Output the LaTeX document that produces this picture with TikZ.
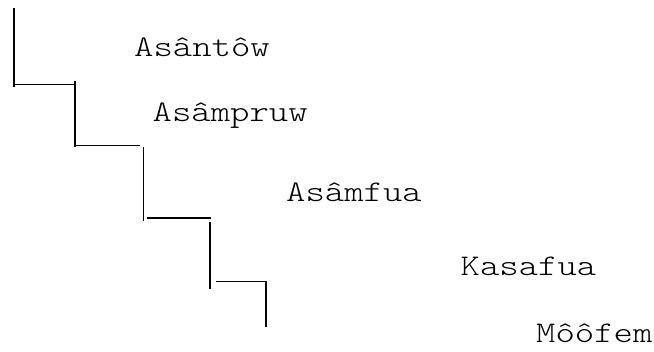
\documentclass[tikz,border=0pt]{standalone}
\usepackage{fontspec}
\newfontfamily\courfont[Extension=.otf,FakeStretch=1.23]{lmmonolt10-regular}
\begin{document}
\begin{tikzpicture}[x=1pt,y=-1pt,
  stair/.style={line width=1.6pt,black},
  lbl/.style={font=\courfont\fontsize{30}{30}\selectfont,anchor=base west,inner sep=0pt}]
\useasboundingbox (0,0) rectangle (654,352);
% labels
\node[lbl] (t1) at (134,56.7) {Asântôw};
\node[lbl] (t2) at (152.5,121.7) {Asâmpruw};
\node[lbl] (t3) at (286,201.7) {Asâmfua};
\node[lbl] (t4) at (460.5,276) {Kasafua};
\node[lbl] (t5) at (536,342.7) {Môôfem};
% staircase points
\coordinate (a1) at (14,8);
\coordinate (a2) at (14,87);
\coordinate (b1) at (14,84.5);
\coordinate (b2) at (75,84.5);
\coordinate (c1) at (75,81);
\coordinate (c2) at (75,147);
\coordinate (d1) at (75,145.5);
\coordinate (d2) at (140,145.5);
\coordinate (e1) at (143.3,147.5);
\coordinate (e2) at (143.3,221);
\coordinate (f1) at (146.7,218);
\coordinate (f2) at (211,218);
\coordinate (g1) at (210,222);
\coordinate (g2) at (210,289);
\coordinate (h1) at (215.7,281.7);
\coordinate (h2) at (265.7,281.7);
\coordinate (h3) at (265.7,327);
\draw[stair] (a1) -- (a2);
\draw[stair] (b1) -- (b2);
\draw[stair] (c1) -- (c2);
\draw[stair] (d1) -- (d2);
\draw[stair] (e1) -- (e2);
\draw[stair] (f1) -- (f2);
\draw[stair] (g1) -- (g2);
\draw[stair] (h1) -- (h2) -- (h3);
\end{tikzpicture}
\end{document}
